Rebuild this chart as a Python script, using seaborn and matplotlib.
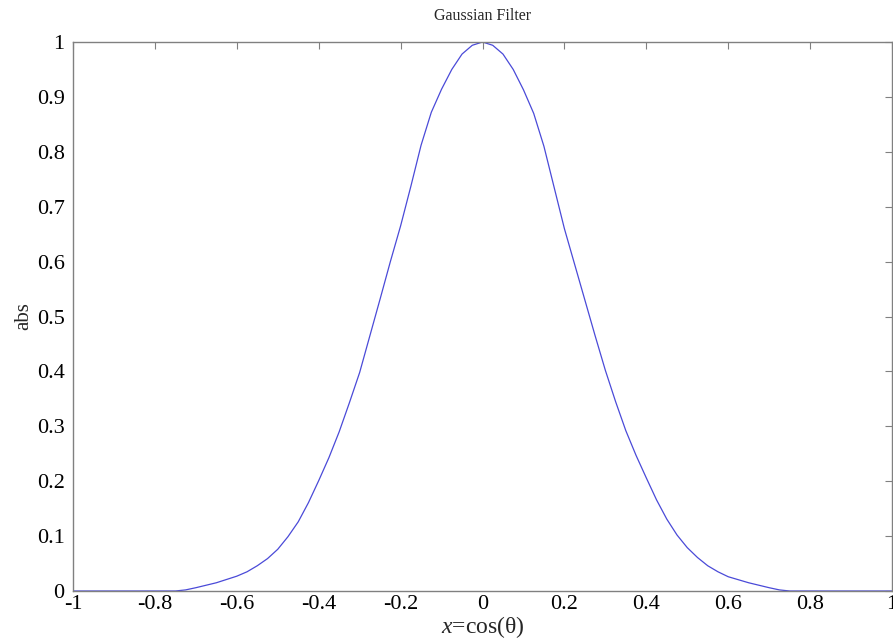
import matplotlib
matplotlib.use("Agg")
import matplotlib.pyplot as plt
import seaborn as sns
import pandas as pd

# Values
x_vals = [-1.0, -0.9, -0.8, -0.75, -0.725, -0.7, -0.65, -0.6, -0.575, -0.55, -0.525, -0.5,
          -0.475, -0.45, -0.425, -0.4, -0.375, -0.35, -0.325, -0.3, -0.275, -0.25, -0.225,
          -0.2, -0.175, -0.15, -0.125, -0.1, -0.075, -0.05, -0.025, 0.0,
          0.025, 0.05, 0.075, 0.1, 0.125, 0.15, 0.175, 0.2, 0.225, 0.25, 0.275, 0.3,
          0.325, 0.35, 0.375, 0.4, 0.425, 0.45, 0.475, 0.5, 0.525, 0.55, 0.575, 0.6,
          0.65, 0.7, 0.725, 0.75, 0.8, 0.9, 1.0]
abs_vals = [0.0, 0.0, 0.0, 0.0, 0.002, 0.006, 0.015, 0.027, 0.035, 0.046, 0.059, 0.076,
            0.099, 0.126, 0.161, 0.201, 0.243, 0.290, 0.343, 0.398, 0.465, 0.532, 0.600,
            0.665, 0.737, 0.812, 0.872, 0.914, 0.950, 0.978, 0.994, 1.0,
            0.994, 0.978, 0.950, 0.913, 0.870, 0.810, 0.735, 0.660, 0.595, 0.530, 0.465, 0.402,
            0.345, 0.292, 0.247, 0.206, 0.166, 0.131, 0.102, 0.079, 0.061, 0.046, 0.035, 0.026,
            0.015, 0.006, 0.002, 0.0, 0.0, 0.0, 0.0]
x_ticks = [-1, -0.8, -0.6, -0.4, -0.2, 0, 0.2, 0.4, 0.6, 0.8, 1]
x_tick_labels = ["-1", "-0.8", "-0.6", "-0.4", "-0.2", "0", "0.2", "0.4", "0.6", "0.8", "1"]
y_ticks = [0, 0.1, 0.2, 0.3, 0.4, 0.5, 0.6, 0.7, 0.8, 0.9, 1]
y_tick_labels = ["0", "0.1", "0.2", "0.3", "0.4", "0.5", "0.6", "0.7", "0.8", "0.9", "1"]

sns.set_style("white")
plt.rcParams['font.family'] = ['Liberation Serif', 'DejaVu Serif']
plt.rcParams['mathtext.fontset'] = 'custom'
plt.rcParams['mathtext.rm'] = 'Liberation Serif'
plt.rcParams['mathtext.it'] = 'Liberation Serif:italic'

df = pd.DataFrame({"x": x_vals, "abs": abs_vals})

fig = plt.figure(figsize=(8.93, 6.4), dpi=100)
ax = fig.add_axes([73 / 893, 1 - 591 / 640, (892 - 73) / 893, (591 - 42) / 640])
sns.lineplot(data=df, x="x", y="abs", ax=ax, color="#4a4ad8", linewidth=0.9)

ax.set_xlim(-1, 1)
ax.set_ylim(0, 1)
ax.set_xticks(x_ticks)
ax.set_xticklabels(x_tick_labels)
ax.set_yticks(y_ticks)
ax.set_yticklabels(y_tick_labels)
ax.tick_params(direction="in", length=5, width=0.8, color="#808080",
               top=True, right=True, labelsize=16, labelcolor="black")
ax.tick_params(axis="x", pad=3)
ax.tick_params(axis="y", pad=6)
for s in ax.spines.values():
    s.set_color("#808080")
    s.set_linewidth(1.0)

ax.set_title("Gaussian Filter", fontsize=11.5, pad=16)
ax.set_xlabel(r"$\mathit{x}$=cos(θ)", fontsize=17, labelpad=0)
ax.set_ylabel("abs", fontsize=15)
ax.yaxis.set_label_coords(-0.049, 0.5)

fig.savefig("out.png", dpi=100)
